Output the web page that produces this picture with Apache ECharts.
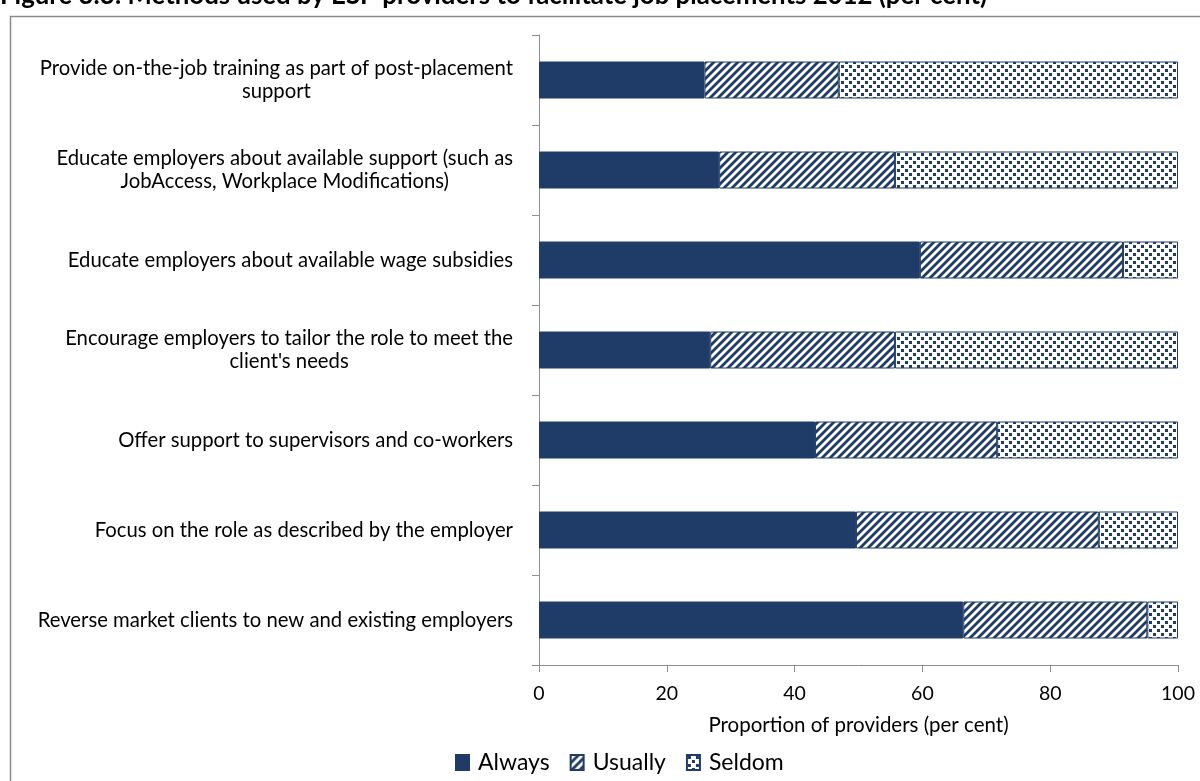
<!DOCTYPE html>
<html>
<head>
<meta charset="utf-8">
<title>Methods used by ESP providers to facilitate job placements 2012</title>
<script src="https://cdn.jsdelivr.net/npm/echarts@6/dist/echarts.min.js"></script>
<style>
  html, body { margin: 0; padding: 0; background: #ffffff; }
  #chart { width: 1200px; height: 781px; }
</style>
</head>
<body>
<div id="chart"></div>
<script>
// Methods, listed top to bottom
const categories = [
  'Provide on-the-job training as part of post-placement\nsupport',
  'Educate employers about available support (such as\nJobAccess, Workplace Modifications)',
  'Educate employers about available wage subsidies',
  "Encourage employers to tailor the role to meet the\nclient's needs",
  'Offer support to supervisors and co-workers',
  'Focus on the role as described by the employer',
  'Reverse market clients to new and existing employers'
];

// Share of providers (per cent)
const always  = [25.9, 28.2, 59.6, 26.8, 43.2, 49.6, 66.4];
const usually = [21.0, 27.5, 31.8, 28.9, 28.5, 38.0, 28.8];
const seldom  = [53.1, 44.3,  8.6, 44.3, 28.3, 12.4,  4.8];

const xTicks = [0, 20, 40, 60, 80, 100];

const NAVY = '#1f3c68';
const AXIS = '#8e8e8e';
const FONT = 'Lato, "Noto Sans", sans-serif';

// Diagonal hatch fill ("/" stripes)
function stripeTile() {
  const c = document.createElement('canvas');
  c.width = 8; c.height = 8;
  const g = c.getContext('2d');
  g.fillStyle = '#ffffff';
  g.fillRect(0, 0, 8, 8);
  g.strokeStyle = NAVY;
  g.lineWidth = 2.8;
  g.beginPath();
  g.moveTo(-2, 2); g.lineTo(2, -2);
  g.moveTo(0, 8); g.lineTo(8, 0);
  g.moveTo(6, 10); g.lineTo(10, 6);
  g.stroke();
  return c;
}

// Staggered small-square dot fill
function dotTile() {
  const c = document.createElement('canvas');
  c.width = 8; c.height = 8;
  const g = c.getContext('2d');
  g.fillStyle = '#ffffff';
  g.fillRect(0, 0, 8, 8);
  g.fillStyle = NAVY;
  g.fillRect(1, 1, 3, 3);
  g.fillRect(5, 5, 3, 3);
  return c;
}

const stripeFill = { image: stripeTile(), repeat: 'repeat' };
const dotFill = { image: dotTile(), repeat: 'repeat' };

function barSeries(name, data, fill) {
  return {
    name: name,
    type: 'bar',
    stack: 'total',
    data: data,
    barWidth: 37,
    itemStyle: { color: fill, borderColor: NAVY, borderWidth: 1 }
  };
}

const chart = echarts.init(document.getElementById('chart'), null, { renderer: 'canvas' });

chart.setOption({
  animation: false,
  backgroundColor: '#ffffff',
  title: {
    text: 'Figure 3.3: Methods used by ESP providers to facilitate job placements 2012 (per cent)',
    left: 0,
    top: -17,
    padding: 0,
    textStyle: { fontFamily: FONT, fontWeight: 'bold', fontSize: 25.8, lineHeight: 26, color: '#000000' }
  },
  graphic: [{
    type: 'rect',
    shape: { x: 10.5, y: 16.5, width: 1200, height: 800 },
    style: { fill: 'none', stroke: '#8a8a8a', lineWidth: 1.5 },
    silent: true,
    z: -1
  }],
  grid: { left: 539, right: 22, top: 35, bottom: 116, containLabel: false },
  legend: {
    left: 450,
    top: 746,
    itemWidth: 13,
    itemHeight: 15,
    itemGap: 20,
    icon: 'rect',
    data: ['Always', 'Usually', 'Seldom'],
    textStyle: { fontFamily: FONT, fontSize: 23, color: '#000000', padding: [0, 0, 0, 4] }
  },
  xAxis: {
    type: 'value',
    min: 0,
    max: 100,
    interval: 20,
    name: 'Proportion of providers (per cent)',
    nameLocation: 'middle',
    nameGap: 50,
    nameTextStyle: { fontFamily: FONT, fontSize: 20.5, color: '#000000' },
    axisLine: { show: true, lineStyle: { color: AXIS, width: 1 } },
    axisTick: { show: true, length: 7, lineStyle: { color: AXIS } },
    splitLine: { show: false },
    axisLabel: {
      margin: 19,
      fontFamily: FONT,
      fontSize: 19.5,
      color: '#000000',
      formatter: function (v) { return xTicks.indexOf(v) >= 0 ? String(v) : ''; }
    }
  },
  yAxis: {
    type: 'category',
    inverse: true,
    data: categories,
    axisLine: { show: true, lineStyle: { color: AXIS, width: 1 } },
    axisTick: { show: true, length: 7, lineStyle: { color: AXIS } },
    axisLabel: {
      margin: 26,
      formatter: function (v) {
        return v.split('\n').map(function (s) { return '{c|' + s + '}'; }).join('\n');
      },
      rich: {
        c: { align: 'center', fontFamily: FONT, fontSize: 20.3, lineHeight: 23, color: '#000000' }
      }
    }
  },
  series: [
    barSeries('Always', always, NAVY),
    barSeries('Usually', usually, stripeFill),
    barSeries('Seldom', seldom, dotFill)
  ]
});
</script>
</body>
</html>
